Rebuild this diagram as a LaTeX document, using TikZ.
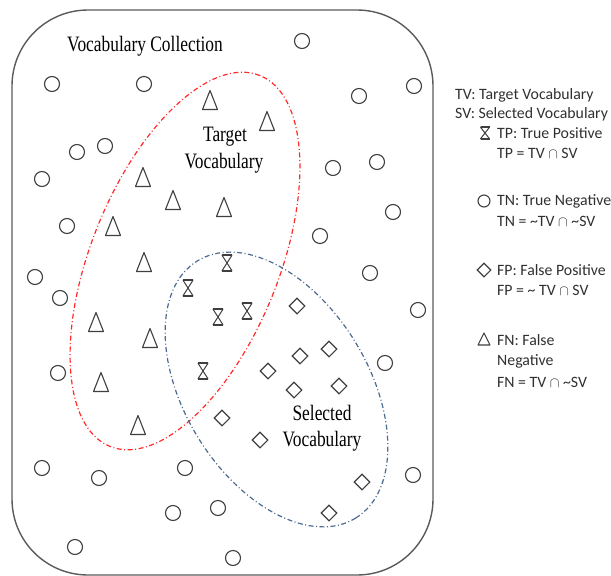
\documentclass[tikz,border=0pt]{standalone}
\usepackage{fontspec}
\setmainfont{Liberation Serif}
\newfontfamily\condserif[FakeStretch=0.79]{Liberation Serif}
\newfontfamily\legfont{Carlito}
\usetikzlibrary{shapes.geometric}
\definecolor{shp}{HTML}{3F3F3F}
\definecolor{boxc}{HTML}{5A5A5A}
\definecolor{tvred}{HTML}{FF2A2A}
\definecolor{svblue}{HTML}{4C6A92}
\definecolor{legc}{HTML}{303030}
\begin{document}
\begin{tikzpicture}[x=1pt,y=-1pt,
  tn/.style={circle, draw=shp, line width=1.1pt, minimum size=15pt, inner sep=0pt},
  fp/.style={diamond, draw=shp, line width=1.1pt, minimum size=16pt, inner sep=0pt},
  fn/.style={rectangle, inner sep=0pt, minimum width=17pt, minimum height=22pt,
    path picture={\draw[color=shp, line width=1.1pt, line join=round]
      ([shift={(1pt,1.5pt)}]path picture bounding box.south west) --
      ([shift={(-1pt,1.5pt)}]path picture bounding box.south east) --
      ([shift={(0pt,-1.5pt)}]path picture bounding box.north) -- cycle;}},
  tp/.style={rectangle, inner sep=0pt, minimum width=12pt, minimum height=18pt,
    path picture={
      \draw[color=shp, line width=1pt, line join=round]
      ([shift={(1pt,-1.2pt)}]path picture bounding box.north west) --
      ([shift={(-1pt,1.2pt)}]path picture bounding box.south east) --
      ([shift={(1pt,1.2pt)}]path picture bounding box.south west) --
      ([shift={(-1pt,-1.2pt)}]path picture bounding box.north east) -- cycle;
      \draw[color=shp, line width=1.7pt]
      ([shift={(1pt,-1.2pt)}]path picture bounding box.north west) --
      ([shift={(-1pt,-1.2pt)}]path picture bounding box.north east)
      ([shift={(1pt,1.2pt)}]path picture bounding box.south west) --
      ([shift={(-1pt,1.2pt)}]path picture bounding box.south east);}},
  ltn/.style={tn, minimum size=12pt},
  lfp/.style={fp, minimum size=14pt},
  lfn/.style={fn, minimum width=14pt, minimum height=15pt},
  ltp/.style={tp, minimum width=11pt, minimum height=14pt},
  setline/.style={line width=1.2pt, dash pattern=on 5pt off 2.5pt on 1pt off 2.5pt},
  big/.style={font=\condserif\fontsize{22}{26}\selectfont, inner sep=0pt},
  leg/.style={font=\legfont\fontsize{15.8}{18}\selectfont, inner sep=0pt, text=legc, anchor=west}
]
\useasboundingbox (0,0) rectangle (611,576);
% outer collection
\draw[boxc, line width=1.4pt, rounded corners=76pt] (12,10) rectangle (433,575);
\node[big] (vc) at (145,46) {Vocabulary Collection};

% sets
\node[ellipse, draw=tvred, setline, minimum width=400pt, minimum height=188pt, inner sep=0pt, rotate=68] (tvset) at (185,261) {};
\node[ellipse, draw=svblue, setline, minimum width=302pt, minimum height=184pt, inner sep=0pt, rotate=-58.4] (svset) at (276.5,389.5) {};

\node[big] (tvl1) at (225,137) {Target};
\node[big] (tvl2) at (224,163) {Vocabulary};
\node[big] (svl1) at (322,413) {Selected};
\node[big] (svl2) at (322,441) {Vocabulary};

% true negatives
\foreach \x/\y [count=\i] in {302/41, 52/84, 144/84, 359/96, 414/86, 105/146, 77/152, 42/179,
  333/168, 377/162, 67/226, 393/212, 320/236, 35/277, 60/298, 370/273, 418/310, 385/363,
  58/373, 42/468, 99/478, 185/468, 413/475, 173/513, 218/508, 75/547, 233/558}
  \node[tn] (tn\i) at (\x,\y) {};

% false negatives
\foreach \x/\y [count=\i] in {210/100, 267/121, 143/177, 173/200, 224/207, 113/226,
  144/262, 96/322, 150/338, 101/382, 138/425}
  \node[fn] (fn\i) at (\x,\y) {};

% true positives
\foreach \x/\y [count=\i] in {227/263, 188/288, 218/317, 247/311, 203/371}
  \node[tp] (tp\i) at (\x,\y) {};

% false positives
\foreach \x/\y [count=\i] in {297/306, 300/356, 329/349, 268/371, 294/390, 339/386,
  222/418, 260/440, 362/482, 329/513}
  \node[fp] (fp\i) at (\x,\y) {};

% legend
\node[leg] (lg1) at (455,95) {TV: Target Vocabulary};
\node[leg] (lg2) at (455,114) {SV: Selected Vocabulary};
\node[ltp] (lgtp) at (485,133) {};
\node[leg] (lg3) at (497,133) {TP: True Positive};
\node[leg] (lg4) at (497,153) {TP = TV $\cap$ SV};
\node[ltn] (lgtn) at (484,201) {};
\node[leg] (lg5) at (497,201) {TN: True Negative};
\node[leg] (lg6) at (497,221) {TN = \textasciitilde TV $\cap$ \textasciitilde SV};
\node[lfp] (lgfp) at (484,270) {};
\node[leg] (lg7) at (497,270) {FP: False Positive};
\node[leg] (lg8) at (497,290) {FP = \textasciitilde\ TV $\cap$ SV};
\node[lfn] (lgfn) at (484,339) {};
\node[leg] (lg9) at (497,340) {FN: False};
\node[leg] (lg10) at (497,361) {Negative};
\node[leg] (lg11) at (497,382) {FN = TV $\cap$ \textasciitilde SV};
\end{tikzpicture}
\end{document}
